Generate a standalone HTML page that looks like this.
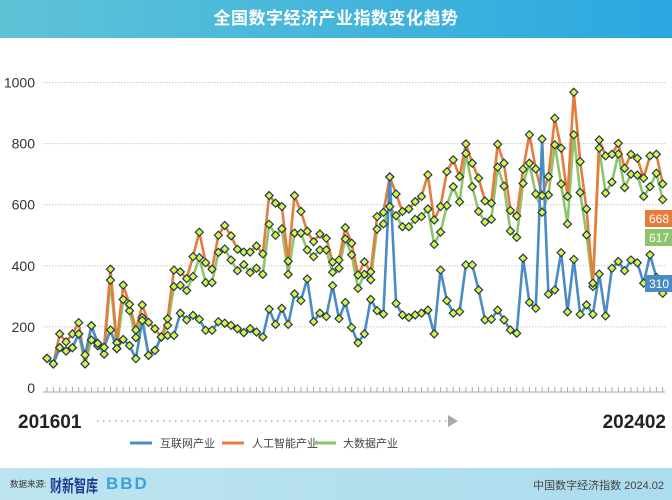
<!DOCTYPE html>
<html><head><meta charset="utf-8"><style>
html,body{margin:0;padding:0;background:#fff;}
body{width:672px;height:500px;position:relative;overflow:hidden;font-family:"Liberation Sans","Noto Sans CJK SC",sans-serif;}
#hdr{position:absolute;left:0;top:0;width:672px;height:38px;background:linear-gradient(90deg,#5fc3d7,#2aa8e0);color:#fff;font-size:17px;font-weight:bold;text-align:center;line-height:38px;letter-spacing:0.5px;}
#ftr{position:absolute;left:0;top:468px;width:672px;height:32px;background:linear-gradient(90deg,#bde4ef,#acdcee);}
</style></head><body>
<div id="hdr">全国数字经济产业指数变化趋势</div>
<svg id="chart" width="672" height="500" style="position:absolute;left:0;top:0"></svg>
<div id="ftr">
<span style="position:absolute;left:10px;top:10px;font-size:8.5px;color:#333;white-space:nowrap">数据来源:</span>
<span style="position:absolute;left:50px;top:6px;font-size:12px;font-weight:bold;color:#1b3d8f;white-space:nowrap;transform:scaleY(1.4);transform-origin:left top">财新智库</span>
<span style="position:absolute;left:106px;top:6px;font-size:17px;font-weight:bold;color:#3aa0e0;letter-spacing:2px">BBD</span>
<span style="position:absolute;right:8px;top:9px;font-size:11px;color:#444">中国数字经济指数 2024.02</span>
</div>
<script>
const blueVals=[97,79,132,121,132,177,108,204,146,133,190,129,159,139,96,221,107,123,167,172,172,245,223,238,225,189,189,217,212,205,194,181,194,183,167,258,208,261,208,308,286,357,217,245,234,335,227,280,198,148,177,290,253,242,691,277,239,231,239,245,255,177,386,286,245,250,403,403,321,223,225,255,223,190,179,425,280,261,815,307,321,443,249,421,241,272,241,373,236,392,414,384,419,410,343,436,362,310];
const orangeVals=[97,79,177,151,177,214,79,204,146,133,389,148,337,274,190,272,215,194,167,227,386,380,358,430,510,410,389,500,532,498,454,445,445,465,439,630,605,594,415,630,578,513,479,504,490,412,419,525,474,370,413,380,561,575,691,635,578,586,610,627,698,550,594,708,747,692,799,736,687,612,605,798,736,581,563,716,829,717,630,692,883,785,627,968,741,586,343,812,760,765,801,719,765,752,687,760,765,668];
const greenVals=[97,79,132,121,132,177,79,157,138,111,353,129,290,253,165,231,107,123,167,205,332,336,319,365,427,345,345,444,455,419,384,404,378,392,372,536,500,521,372,507,507,452,430,452,452,379,392,488,436,326,372,354,520,537,594,564,528,528,552,561,586,470,510,597,659,609,768,659,578,543,552,723,661,514,493,670,736,635,575,632,796,668,537,829,640,501,332,785,638,674,766,656,700,697,627,659,703,617];
const yTicks=[0,200,400,600,800,1000];
const seriesNames=["互联网产业","人工智能产业","大数据产业"];
const startLabel="201601", endLabel="202402";

const NS="http://www.w3.org/2000/svg";
const svg=document.getElementById('chart');
const X0=47,X1=662.7,Y0=388,Y1=82.5;
const n=blueVals.length;
const xs=i=>X0+(X1-X0)*i/(n-1);
const ys=v=>Y0+(Y1-Y0)*v/1000;
function el(t,a,p){const e=document.createElementNS(NS,t);for(const k in a)e.setAttribute(k,a[k]);(p||svg).appendChild(e);return e;}

yTicks.forEach(t=>{
  if(t>0){const g=el('line',{x1:43,x2:665,y1:ys(t),y2:ys(t),stroke:'#c8c8c8','stroke-width':1,'stroke-dasharray':'1.5 1.5'});
  
  }
  const tx=el('text',{x:35,y:ys(t)+5,'text-anchor':'end','font-size':14,fill:'#333','font-family':'Liberation Sans, sans-serif'});
  tx.textContent=t;
  
  
});
const axis=el('line',{x1:43,x2:665,y1:392,y2:392,stroke:'#aaa','stroke-width':1});


for(let i=0;i<n;i++){const tk=el('line',{x1:xs(i),x2:xs(i),y1:387,y2:392,stroke:'#aaa','stroke-width':1});

}

const colors=['#4b8cc4','#e57c3c','#8ec56b'];
const all=[blueVals,orangeVals,greenVals];
const keys=['internet','ai','bigdata'];
const drawOrder=[2,1,0];
drawOrder.forEach(s=>{
  const pts=all[s].map((v,i)=>xs(i).toFixed(1)+','+ys(v).toFixed(1)).join(' ');
  const pl=el('polyline',{points:pts,fill:'none',stroke:colors[s],'stroke-width':2.6,'stroke-linejoin':'round'});
  
  
});
drawOrder.forEach(s=>{
  all[s].forEach((v,i)=>{
    const x=xs(i),y=ys(v),r=4;
    const m=el('polygon',{points:`${x},${y-r} ${x+r},${y} ${x},${y+r} ${x-r},${y}`,fill:'#dcf23c',stroke:'#1d3a55','stroke-width':1.2});
    
    
  });
});
[[1,210],[2,229],[0,275]].forEach(([s,y])=>{
  const r=el('rect',{x:645,y:y,width:28,height:17,fill:colors[s]});
  
  
  const t=el('text',{x:659,y:y+13,'text-anchor':'middle','font-size':12,fill:'#fff','font-family':'Liberation Sans, sans-serif'});
  t.textContent=all[s][n-1];
  
  
});
const t1=el('text',{x:18,y:428,'font-size':19,'font-weight':'bold',fill:'#222','font-family':'Liberation Sans, sans-serif'});
t1.textContent=startLabel;


const t2=el('text',{x:666,y:428,'text-anchor':'end','font-size':19,'font-weight':'bold',fill:'#222','font-family':'Liberation Sans, sans-serif'});
t2.textContent=endLabel;


const tl=el('line',{x1:97,x2:448,y1:421,y2:421,stroke:'#aaa','stroke-width':1.5,'stroke-dasharray':'1.5 4.5'});


const ar=el('polygon',{points:'448,415 458,421 448,427',fill:'#aaa'});


[[130,160],[222,252],[314,343]].forEach(([lx,tx],s)=>{
  const l=el('line',{x1:lx,x2:lx+22,y1:443,y2:443,stroke:colors[s],'stroke-width':3});
  
  
  const t=el('text',{x:tx,y:447,'font-size':11,fill:'#444','font-family':'Liberation Sans, Noto Sans CJK SC, sans-serif'});
  t.textContent=seriesNames[s];
  
  
});
</script>
</body></html>
